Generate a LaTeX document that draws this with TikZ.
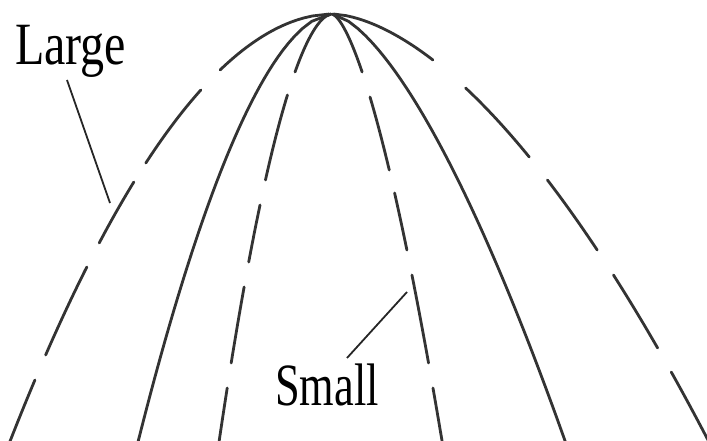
\documentclass[tikz,border=0pt]{standalone}
\usepackage{fontspec}
\setmainfont{Liberation Serif}
\begin{document}
\begin{tikzpicture}[x=1pt,y=-1pt,
  curve/.style={draw=black!80, line width=2.8pt, line cap=round},
  leader/.style={draw=black!85, line width=1.8pt},
  lbl/.style={inner sep=0pt, text=black, font=\fontsize{60}{62}\selectfont}]
\useasboundingbox (0,0) rectangle (707,441);
% outer dashed (Large)
\foreach \a/\b in {0.05/56, 76/149, 168/229, 253/341, 366/430}
  \draw[curve] plot[domain=\a:\b, variable=\t, samples=30] ({332-13.8*(\t)^0.52},{14+\t});
\foreach \a/\b in {0.05/46, 74/143, 166/236, 261/334, 358/430}
  \draw[curve] plot[domain=\a:\b, variable=\t, samples=30] ({332+10.5*(\t)^0.591},{14+\t});
% solid
\draw[curve] plot[domain=0.05:430, variable=\t, samples=60] ({332-6.68*(\t)^0.556},{14+\t});
\draw[curve] plot[domain=0.05:430, variable=\t, samples=60] ({332+4.52*(\t)^0.651},{14+\t});
% inner dashed (Small)
\foreach \a/\b in {0.05/58, 81/166, 191/248, 273/349, 374/430}
  \draw[curve] plot[domain=\a:\b, variable=\t, samples=30] ({332-3.82*(\t)^0.559},{14+\t});
\foreach \a/\b in {0.05/58, 83/156, 179/236, 261/349, 374/430}
  \draw[curve] plot[domain=\a:\b, variable=\t, samples=30] ({332+2.16*(\t)^0.649},{14+\t});
% labels
\node[lbl, anchor=base west] (large) at (15,65) {\scalebox{0.8}[1]{Large}};
\node[lbl, anchor=base west] (small) at (275,405) {\scalebox{0.74}[1]{Small}};
\coordinate (largeA) at (67,80);
\coordinate (largeB) at (110,203);
\coordinate (smallA) at (347,358);
\coordinate (smallB) at (407,292);
\draw[leader] (largeA) -- (largeB);
\draw[leader] (smallA) -- (smallB);
\end{tikzpicture}
\end{document}
